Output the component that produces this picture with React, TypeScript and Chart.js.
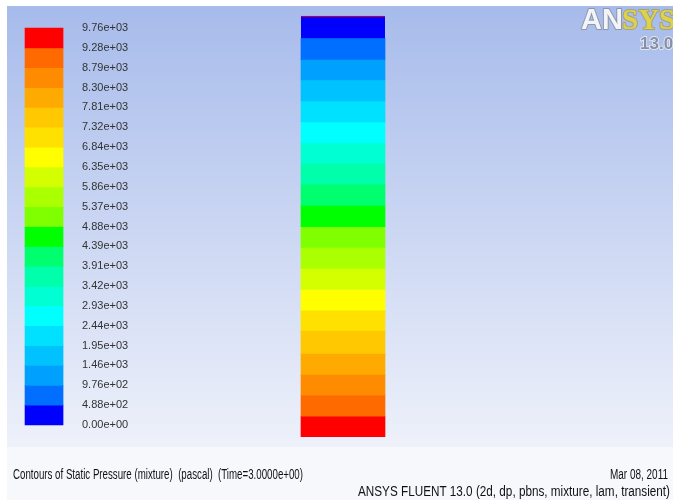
import React, { useEffect, useRef } from "react";
import { Chart, registerables } from "chart.js";

Chart.register(...registerables);

// Contour levels of the colour bar (pascal), from minimum to maximum
const legendLevels = [
  0, 488.23, 976.46, 1464.69, 1952.92, 2441.15, 2929.38, 3417.61, 3905.84, 4394.07,
  4882.3, 5370.53, 5858.76, 6346.99, 6835.22, 7323.45, 7811.68, 8299.91, 8788.14,
  9276.37, 9764.6,
];

// Tick labels of the colour bar, same order as legendLevels
const legendTickLabels = [
  "0.00e+00", "4.88e+02", "9.76e+02", "1.46e+03", "1.95e+03", "2.44e+03", "2.93e+03",
  "3.42e+03", "3.91e+03", "4.39e+03", "4.88e+03", "5.37e+03", "5.86e+03", "6.35e+03",
  "6.84e+03", "7.32e+03", "7.81e+03", "8.30e+03", "8.79e+03", "9.28e+03", "9.76e+03",
];

// Colour of each contour band, lowest band first
const bandColors = [
  "#0000ff", "#006eff", "#00a0ff", "#00c2ff", "#00e0ff", "#00ffff", "#00ffd2",
  "#00ffaa", "#00ff6e", "#00ff00", "#80ff00", "#aaff00", "#d4ff00", "#ffff00",
  "#ffe100", "#ffc800", "#ffaa00", "#ff8c00", "#ff6a00", "#ff0000",
];

// Band edges of the fluid column (normalised height, bottom = 0, top = 1)
const columnEdges = [
  0, 0.049, 0.099, 0.148, 0.198, 0.252, 0.301, 0.35, 0.4, 0.45, 0.499, 0.55, 0.6,
  0.65, 0.699, 0.748, 0.798, 0.848, 0.897, 0.947, 1.0,
];

// Contour band index of each column band, from the bottom upwards
const columnBandLevels = [19, 18, 17, 16, 15, 14, 13, 12, 11, 10, 9, 8, 7, 6, 5, 4, 3, 2, 1, 0];

const footerTitle = "Contours of Static Pressure (mixture)  (pascal)  (Time=3.0000e+00)";
const footerDate = "Mar 08, 2011";
const footerVersion = "ANSYS FLUENT 13.0 (2d, dp, pbns, mixture, lam, transient)";

const SANS = "'Liberation Sans', Arial, sans-serif";

const backdropPlugin = {
  id: "backdrop",
  beforeDraw(chart: any) {
    const { ctx, chartArea: a, width, height } = chart;
    ctx.save();
    ctx.fillStyle = "#ffffff";
    ctx.fillRect(0, 0, width, height);
    const g = ctx.createLinearGradient(0, a.top, 0, a.bottom);
    g.addColorStop(0, "#a7bbeb");
    g.addColorStop(1, "#eef1fa");
    ctx.fillStyle = g;
    ctx.fillRect(a.left, a.top, a.right - a.left, a.bottom - a.top);
    ctx.fillStyle = "#f7f8fc";
    ctx.fillRect(a.left, a.bottom, a.right - a.left, height - a.bottom);
    ctx.restore();
  },
  afterDraw(chart: any) {
    const { ctx, chartArea: a } = chart;
    ctx.save();
    // footer
    ctx.fillStyle = "#111111";
    ctx.textBaseline = "middle";
    ctx.font = `14px ${SANS}`;
    ctx.textAlign = "left";
    ctx.fillText(footerTitle, a.left + 6, a.bottom + 28, 290);
    ctx.textAlign = "right";
    ctx.fillText(footerDate, a.right - 5, a.bottom + 28, 58);
    ctx.fillText(footerVersion, a.right - 3, a.bottom + 45, 312);
    // logo
    ctx.textAlign = "left";
    ctx.textBaseline = "alphabetic";
    ctx.lineJoin = "round";
    ctx.font = `bold 29px ${SANS}`;
    ctx.lineWidth = 2;
    ctx.strokeStyle = "#8d97ab";
    ctx.fillStyle = "#f3f4f8";
    ctx.strokeText("AN", a.right - 92, a.top + 23);
    ctx.fillText("AN", a.right - 92, a.top + 23);
    ctx.font = `bold 29px 'Liberation Serif', serif`;
    ctx.strokeStyle = "#a4a27a";
    ctx.fillStyle = "#ded24a";
    ctx.strokeText("SYS", a.right - 51, a.top + 23);
    ctx.fillText("SYS", a.right - 51, a.top + 23);
    ctx.font = `bold 17px ${SANS}`;
    ctx.strokeStyle = "#eef0f6";
    ctx.lineWidth = 1.5;
    ctx.fillStyle = "#868fa3";
    ctx.strokeText("13.0", a.right - 33, a.top + 43);
    ctx.fillText("13.0", a.right - 33, a.top + 43);
    ctx.restore();
  },
};

const LEGEND_X = 0.0556;
const COLUMN_X = 0.5045;

export default function App() {
  const ref = useRef<HTMLCanvasElement>(null);

  useEffect(() => {
    if (!ref.current) return;
    const topIndex = columnBandLevels.length - 1;
    const chart = new Chart(ref.current, {
      type: "bar",
      data: {
        datasets: [
          {
            label: "colour bar",
            yAxisID: "yLegend",
            data: bandColors.map((_, i) => ({ x: LEGEND_X, y: [legendLevels[i], legendLevels[i + 1]] })) as any,
            backgroundColor: bandColors,
            borderWidth: 0,
            barThickness: 38,
            grouped: false,
          },
          {
            label: "column",
            yAxisID: "yCol",
            data: columnBandLevels.map((_, k) => ({ x: COLUMN_X, y: [columnEdges[k], columnEdges[k + 1]] })) as any,
            backgroundColor: columnBandLevels.map((l) => bandColors[l]),
            borderColor: bandColors[bandColors.length - 1],
            borderWidth: ((ctx: any) =>
              ctx.dataIndex === topIndex ? { top: 1, left: 0, right: 0, bottom: 0 } : 0) as any,
            borderSkipped: false,
            barThickness: 84,
            grouped: false,
          },
        ],
      },
      options: {
        responsive: false,
        animation: false,
        events: [],
        layout: { padding: { left: 7, top: 6, right: 0, bottom: 53 } },
        plugins: {
          legend: { display: false },
          tooltip: { enabled: false },
        },
        scales: {
          x: { type: "linear", min: 0, max: 1, offset: false, display: false },
          yCol: { type: "linear", min: -0.02448, max: 1.02377, display: false },
          yLegend: {
            type: "linear",
            position: "left",
            min: -541.1,
            max: 10305.7,
            afterBuildTicks: (s: any) => {
              s.ticks = legendLevels.map((v) => ({ value: v }));
            },
            afterFit: (s: any) => {
              s.width = 0;
              s.paddingTop = 0;
              s.paddingBottom = 0;
            },
            grid: { display: false, drawTicks: false },
            border: { display: false },
            ticks: {
              mirror: true,
              padding: 75,
              autoSkip: false,
              color: "#333333",
              font: { family: SANS, size: 11 },
              callback: (_v: any, i: number) => legendTickLabels[i],
            },
          },
        },
      } as any,
      plugins: [backdropPlugin],
    });
    return () => chart.destroy();
  }, []);

  return (
    <div style={{ position: "absolute", left: 0, top: 0, width: 673, height: 500, background: "#fff" }}>
      <canvas ref={ref} width={673} height={500} style={{ display: "block", width: 673, height: 500 }} />
    </div>
  );
}
